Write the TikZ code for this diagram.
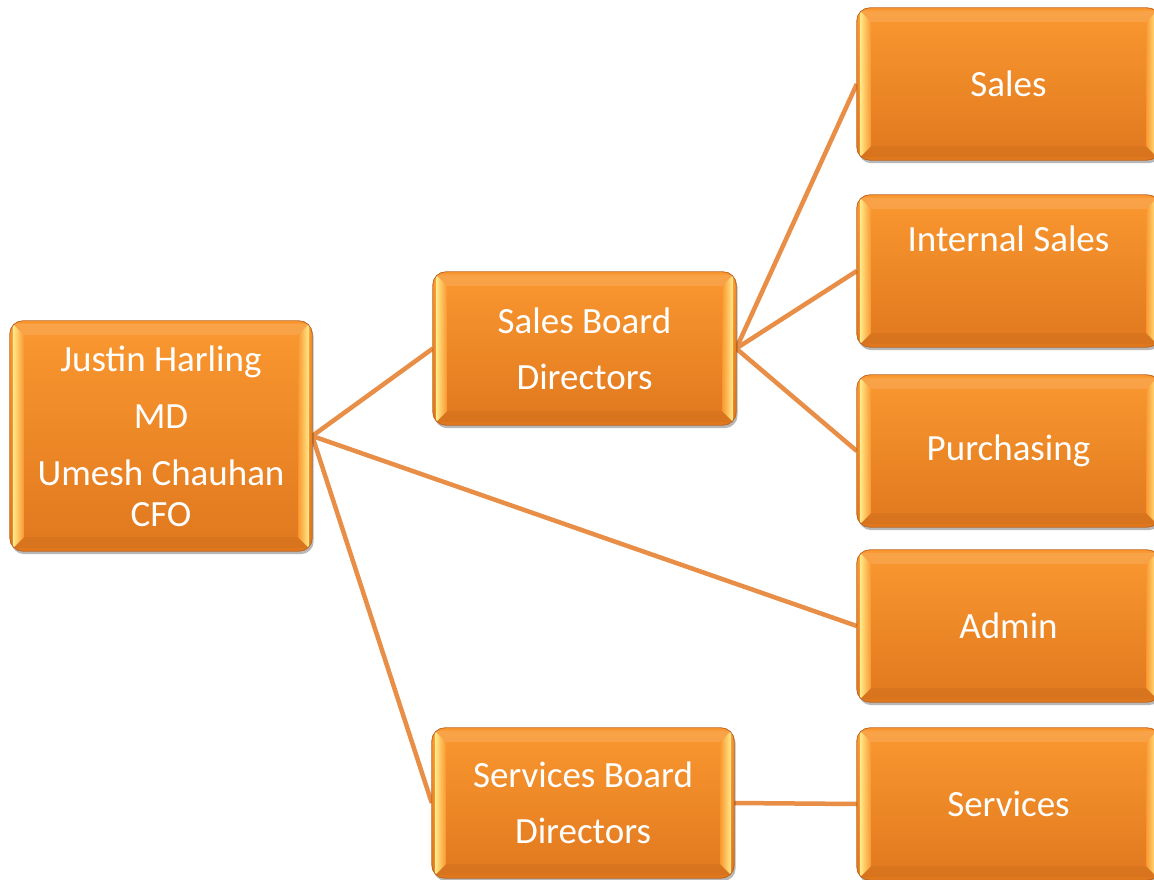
\documentclass[tikz,border=0pt]{standalone}
\usepackage{fontspec}
\setmainfont{Carlito}
\usetikzlibrary{calc}
\definecolor{lineor}{RGB}{232,142,70}
\definecolor{boxtop}{RGB}{250,152,48}
\definecolor{boxbot}{RGB}{224,120,30}
\definecolor{boxedge}{RGB}{190,100,30}
\definecolor{bevlight}{RGB}{255,236,140}
\pgfdeclarelayer{lines}
\pgfdeclarelayer{deco}
\pgfsetlayers{lines,deco,main}
\tikzset{
  orgbox/.style={rectangle, text=white, align=center,
    font=\fontsize{37}{41}\selectfont, inner sep=0pt,
    minimum width=303pt, minimum height=152pt},
  boxshadow/.style={fill=black, opacity=0.28, rounded corners=13pt},
  boxface/.style={top color=boxtop, bottom color=boxbot, rounded corners=13pt},
  conn/.style={draw=lineor, line width=4.5pt}
}
\begin{document}
\begin{tikzpicture}[x=1pt,y=-1pt]
\useasboundingbox (0,0) rectangle (1154,880);
\node[orgbox, minimum width=302pt, minimum height=230pt] (root) at (161,436)
  {Justin Harling\\[16pt]MD\\[16pt]Umesh Chauhan\\CFO};
\node[orgbox, minimum height=153pt] (sb) at (584.5,348.5) {Sales Board\\[15pt]Directors};
\node[orgbox, minimum width=302pt, minimum height=150pt] (svb) at (583,803) {Services Board\\[15pt]Directors};
\node[orgbox] (sales) at (1008.5,84) {Sales};
\node[orgbox] (isales) at (1008.5,271) {Internal Sales\\[12pt]\strut};
\node[orgbox] (purch) at (1008.5,451) {Purchasing};
\node[orgbox] (admin) at (1008.5,626) {Admin};
\node[orgbox] (serv) at (1008.5,804) {Services};
\begin{pgfonlayer}{deco}
\foreach \bx in {root,sb,svb,sales,isales,purch,admin,serv}{
  \fill[boxshadow] ([shift={(1.5pt,-3pt)}]\bx.south west) rectangle ([shift={(1.5pt,-3pt)}]\bx.north east);
  \path[boxface] (\bx.south west) rectangle (\bx.north east);
  \begin{scope}
    \clip[rounded corners=13pt] (\bx.south west) rectangle (\bx.north east);
    \path let \p1=(\bx.south west), \p2=(\bx.north east) in
      [fill=boxbot!80!black, opacity=0.2]
      (\x1+3pt,\y1+3pt) -- (\x2-3pt,\y1+3pt) -- (\x2-14pt,\y1+14pt) -- (\x1+14pt,\y1+14pt) -- cycle;
    \path let \p1=(\bx.south west), \p2=(\bx.north east) in
      [fill=white, opacity=0.12]
      (\x1+3pt,\y2-3pt) -- (\x2-3pt,\y2-3pt) -- (\x2-14pt,\y2-14pt) -- (\x1+14pt,\y2-14pt) -- cycle;
    \path let \p1=(\bx.south west), \p2=(\bx.north east) in
      [left color=bevlight, right color=boxtop]
      (\x1+3pt,\y1+3pt) -- (\x1+14pt,\y1+14pt) -- (\x1+14pt,\y2-14pt) -- (\x1+3pt,\y2-3pt) -- cycle;
    \path let \p1=(\bx.south west), \p2=(\bx.north east) in
      [left color=boxtop, right color=bevlight]
      (\x2-3pt,\y1+3pt) -- (\x2-14pt,\y1+14pt) -- (\x2-14pt,\y2-14pt) -- (\x2-3pt,\y2-3pt) -- cycle;
  \end{scope}
  \draw[boxedge, line width=0.8pt, rounded corners=13pt] (\bx.south west) rectangle (\bx.north east);
}
\end{pgfonlayer}
\begin{pgfonlayer}{lines}
  \fill[white] (0,0) rectangle (1154,880);
  \draw[conn] (root.east) -- (sb.west);
  \draw[conn] (root.east) -- (admin.west);
  \draw[conn] (root.east) -- (svb.west);
  \draw[conn] (sb.east) -- (sales.west);
  \draw[conn] (sb.east) -- (isales.west);
  \draw[conn] (sb.east) -- (purch.west);
  \draw[conn] (svb.east) -- (serv.west);
\end{pgfonlayer}
\end{tikzpicture}
\end{document}
